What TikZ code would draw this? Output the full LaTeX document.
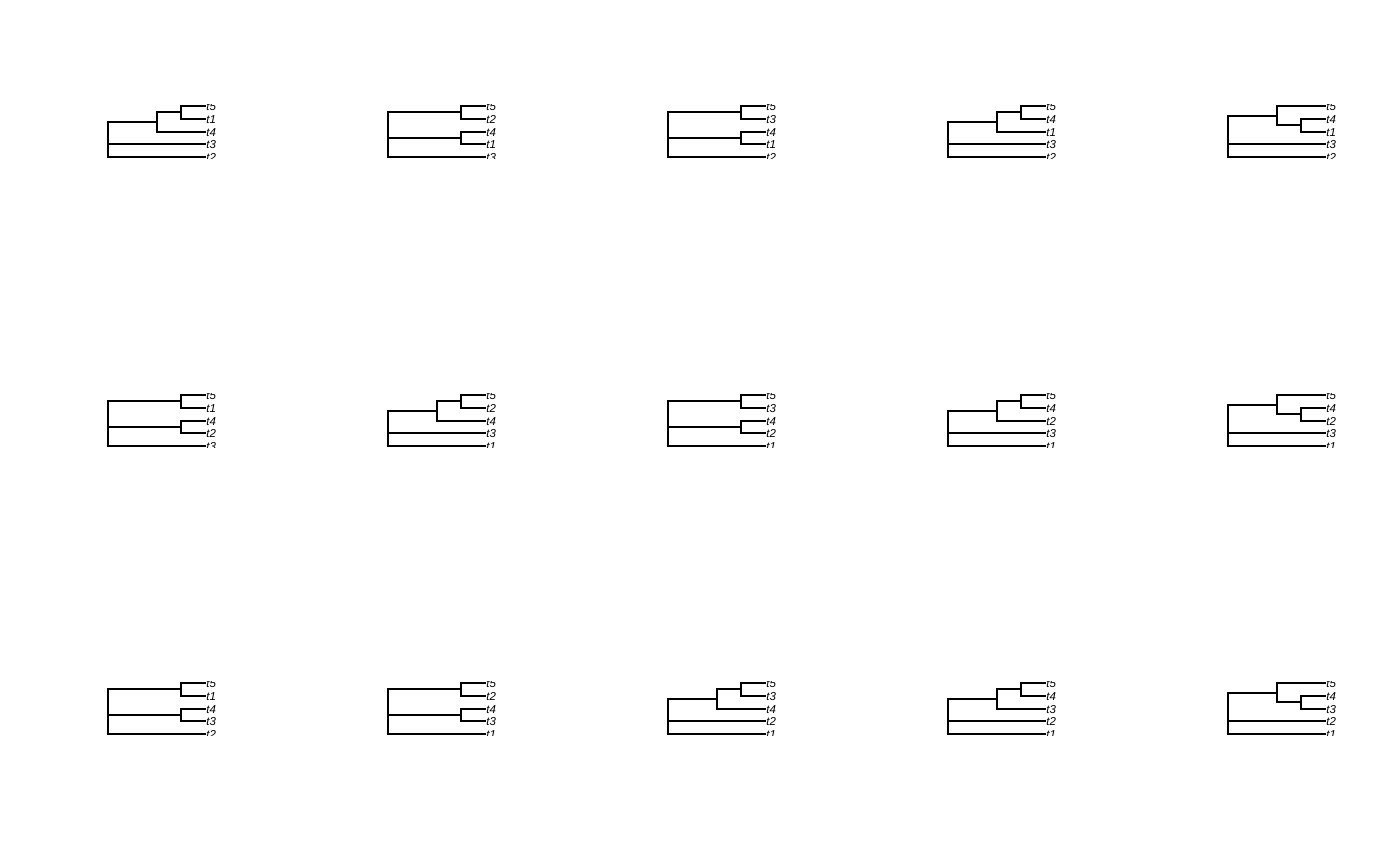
\documentclass[tikz,border=0pt]{standalone}
\usepackage{fontspec}
\setmainfont{Liberation Sans}
\tikzset{
  edge/.style={line width=1.9pt, line join=miter, line cap=rect},
  lab/.style={anchor=west, inner sep=0pt, xshift=1.2pt, yshift=-0.4pt, font=\fontsize{11.5}{12}\selectfont\itshape},
}
% common tips + labels
\newcommand\tips[8]{%
  \coordinate (#1a) at ({#2+97},{#3});
  \coordinate (#1b) at ({#2+97},{#3+13});
  \coordinate (#1c) at ({#2+97},{#3+26});
  \coordinate (#1d) at ({#2+97},{#3+38});
  \coordinate (#1e) at ({#2+97},{#3+51});
  \node[lab] (#1la) at (#1a) {#4};
  \node[lab] (#1lb) at (#1b) {#5};
  \node[lab] (#1lc) at (#1c) {#6};
  \node[lab] (#1ld) at (#1d) {#7};
  \node[lab] (#1le) at (#1e) {#8};
}
\newcommand\clipbox[2]{\clip ({#1-6},{#2-1.8}) rectangle ({#1+140},{#2+52.8});}
% (((a,b),c),d,e)
\newcommand\treeA[8]{%
  \begin{scope}
  \clipbox{#2}{#3}
  \tips{#1}{#2}{#3}{#4}{#5}{#6}{#7}{#8}
  \coordinate (#1n2) at ({#2+73},{#3+6});
  \coordinate (#1n1) at ({#2+49},{#3+16});
  \coordinate (#1r) at ({#2},{#3+33});
  \draw[edge] (#1r) |- (#1n1) (#1r) |- (#1d) (#1r) |- (#1e)
    (#1n1) |- (#1n2) (#1n1) |- (#1c) (#1n2) |- (#1a) (#1n2) |- (#1b);
  \end{scope}}
% ((a,b),(c,d),e)
\newcommand\treeB[8]{%
  \begin{scope}
  \clipbox{#2}{#3}
  \tips{#1}{#2}{#3}{#4}{#5}{#6}{#7}{#8}
  \coordinate (#1n1) at ({#2+73},{#3+6});
  \coordinate (#1n2) at ({#2+73},{#3+32});
  \coordinate (#1r) at ({#2},{#3+29});
  \draw[edge] (#1r) |- (#1n1) (#1r) |- (#1n2) (#1r) |- (#1e)
    (#1n1) |- (#1a) (#1n1) |- (#1b) (#1n2) |- (#1c) (#1n2) |- (#1d);
  \end{scope}}
% ((a,(b,c)),d,e)
\newcommand\treeC[8]{%
  \begin{scope}
  \clipbox{#2}{#3}
  \tips{#1}{#2}{#3}{#4}{#5}{#6}{#7}{#8}
  \coordinate (#1n2) at ({#2+73},{#3+19});
  \coordinate (#1n1) at ({#2+49},{#3+10});
  \coordinate (#1r) at ({#2},{#3+32});
  \draw[edge] (#1r) |- (#1n1) (#1r) |- (#1d) (#1r) |- (#1e)
    (#1n1) |- (#1a) (#1n1) |- (#1n2) (#1n2) |- (#1b) (#1n2) |- (#1c);
  \end{scope}}
\begin{document}
\begin{tikzpicture}[x=1pt,y=-1pt]
\useasboundingbox[fill=white] (0,0) rectangle (1400,866);
% row 1
\treeA{Ta}{108}{106}{t5}{t1}{t4}{t3}{t2}
\treeB{Tb}{388}{106}{t5}{t2}{t4}{t1}{t3}
\treeB{Tc}{668}{106}{t5}{t3}{t4}{t1}{t2}
\treeA{Td}{948}{106}{t5}{t4}{t1}{t3}{t2}
\treeC{Te}{1228}{106}{t5}{t4}{t1}{t3}{t2}
% row 2
\treeB{Tf}{108}{395}{t5}{t1}{t4}{t2}{t3}
\treeA{Tg}{388}{395}{t5}{t2}{t4}{t3}{t1}
\treeB{Th}{668}{395}{t5}{t3}{t4}{t2}{t1}
\treeA{Ti}{948}{395}{t5}{t4}{t2}{t3}{t1}
\treeC{Tj}{1228}{395}{t5}{t4}{t2}{t3}{t1}
% row 3
\treeB{Tk}{108}{683}{t5}{t1}{t4}{t3}{t2}
\treeB{Tl}{388}{683}{t5}{t2}{t4}{t3}{t1}
\treeA{Tm}{668}{683}{t5}{t3}{t4}{t2}{t1}
\treeA{Tn}{948}{683}{t5}{t4}{t3}{t2}{t1}
\treeC{To}{1228}{683}{t5}{t4}{t3}{t2}{t1}
\end{tikzpicture}
\end{document}
